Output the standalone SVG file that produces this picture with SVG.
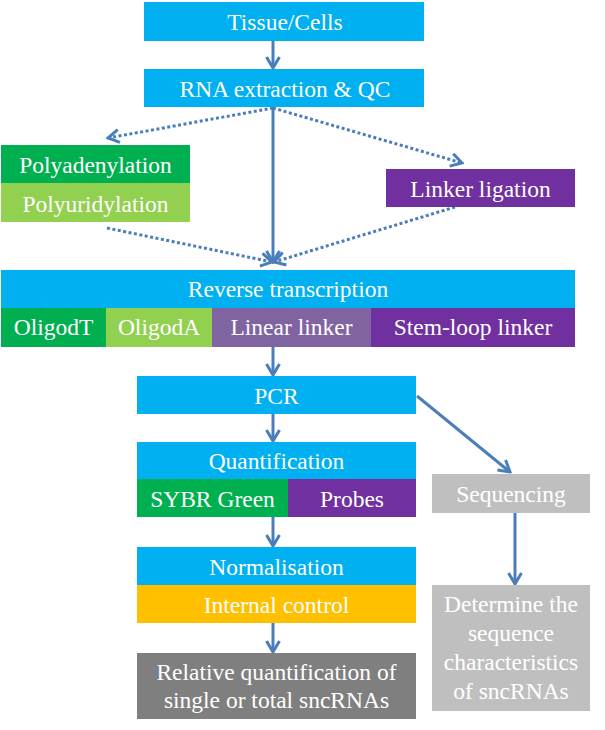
<svg xmlns="http://www.w3.org/2000/svg" width="605" height="730" viewBox="0 0 605 730" font-family="Liberation Serif, serif">
<defs>
<style>
text{font-size:23.5px;fill:#FFFFFF;text-anchor:middle}
.cy{fill:#00B0F0}.dg{fill:#00B050}.lg{fill:#92D050}.pu{fill:#7030A0}.mp{fill:#8064A2}.go{fill:#FFC000}.dk{fill:#7F7F7F}.lt{fill:#BFBFBF}
.s{stroke:#4A7EBB;stroke-width:3;fill:none;marker-end:url(#ah)}
.d{stroke:#4A7EBB;stroke-width:3;fill:none;stroke-dasharray:3 2.5;marker-end:url(#ah)}
</style>
<marker id="ah" markerUnits="userSpaceOnUse" viewBox="-14 -8 16 16" refX="0" refY="0" markerWidth="16" markerHeight="16" orient="auto">
<path d="M-11,-6.5 L0,0 L-11,6.5" fill="none" stroke="#4A7EBB" stroke-width="3"/>
</marker>
</defs>
<g id="connectors">
<line class="s" x1="273" y1="41" x2="273" y2="68"/>
<line class="s" x1="273" y1="107" x2="273" y2="262"/>
<line class="d" x1="273" y1="108" x2="108" y2="138"/>
<line class="d" x1="273" y1="108" x2="462" y2="163"/>
<line class="d" x1="107" y1="228" x2="272" y2="262"/>
<line class="d" x1="455" y1="207" x2="274" y2="262"/>
<line class="s" x1="273" y1="347" x2="273" y2="375"/>
<line class="s" x1="273" y1="414" x2="273" y2="441"/>
<line class="s" x1="417" y1="396" x2="510" y2="472"/>
<line class="s" x1="273" y1="517" x2="273" y2="546"/>
<line class="s" x1="273" y1="623" x2="273" y2="652"/>
<line class="s" x1="515" y1="513" x2="515" y2="584"/>
</g>
<g id="tissue"><rect class="cy" x="144" y="2" width="280" height="39"/><text x="285" y="30" font-family="Liberation Serif">Tissue/Cells</text></g>
<g id="rna"><rect class="cy" x="144" y="69" width="280" height="38"/><text x="285" y="97" font-family="Liberation Serif">RNA extraction &amp; QC</text></g>
<g id="polyA"><rect class="dg" x="1" y="145" width="189" height="38"/><text x="95.5" y="173" font-family="Liberation Serif">Polyadenylation</text></g>
<g id="polyU"><rect class="lg" x="1" y="183" width="189" height="39"/><text x="95.5" y="212" font-family="Liberation Serif">Polyuridylation</text></g>
<g id="linkerlig"><rect class="pu" x="386" y="169" width="189" height="38"/><text x="480.5" y="197" font-family="Liberation Serif">Linker ligation</text></g>
<g id="rt"><rect class="cy" x="1" y="270" width="574" height="38"/><text x="288" y="297" font-family="Liberation Serif">Reverse transcription</text></g>
<g id="oligodT"><rect class="dg" x="1" y="308" width="105" height="39"/><text x="53.5" y="335" font-family="Liberation Serif">OligodT</text></g>
<g id="oligodA"><rect class="lg" x="106" y="308" width="106" height="39"/><text x="159" y="335" font-family="Liberation Serif">OligodA</text></g>
<g id="linear"><rect class="mp" x="212" y="308" width="159" height="39"/><text x="291.5" y="335" font-family="Liberation Serif">Linear linker</text></g>
<g id="stemloop"><rect class="pu" x="371" y="308" width="204" height="39"/><text x="473" y="335" font-family="Liberation Serif">Stem-loop linker</text></g>
<g id="pcr"><rect class="cy" x="137" y="376" width="279" height="38"/><text x="276.5" y="404" font-family="Liberation Serif">PCR</text></g>
<g id="quant"><rect class="cy" x="137" y="442" width="279" height="37"/><text x="276.5" y="469" font-family="Liberation Serif">Quantification</text></g>
<g id="sybr"><rect class="dg" x="137" y="479" width="151" height="38"/><text x="212.5" y="507" font-family="Liberation Serif">SYBR Green</text></g>
<g id="probes"><rect class="pu" x="288" y="479" width="128" height="38"/><text x="352" y="507" font-family="Liberation Serif">Probes</text></g>
<g id="seq"><rect class="lt" x="432" y="474" width="158" height="39"/><text x="511" y="502" font-family="Liberation Serif">Sequencing</text></g>
<g id="norm"><rect class="cy" x="137" y="547" width="279" height="38"/><text x="276.5" y="575" font-family="Liberation Serif">Normalisation</text></g>
<g id="ic"><rect class="go" x="137" y="585" width="279" height="38"/><text x="276.5" y="613" font-family="Liberation Serif">Internal control</text></g>
<g id="relq"><rect class="dk" x="137" y="653" width="279" height="66"/><text x="276.5" y="680" font-family="Liberation Serif">Relative quantification of</text><text x="276.5" y="708" font-family="Liberation Serif">single or total sncRNAs</text></g>
<g id="det"><rect class="lt" x="432" y="585" width="158" height="126"/><text x="511" y="612" font-family="Liberation Serif">Determine the</text><text x="511" y="641" font-family="Liberation Serif">sequence</text><text x="511" y="670" font-family="Liberation Serif">characteristics</text><text x="511" y="699" font-family="Liberation Serif">of sncRNAs</text></g>
</svg>
